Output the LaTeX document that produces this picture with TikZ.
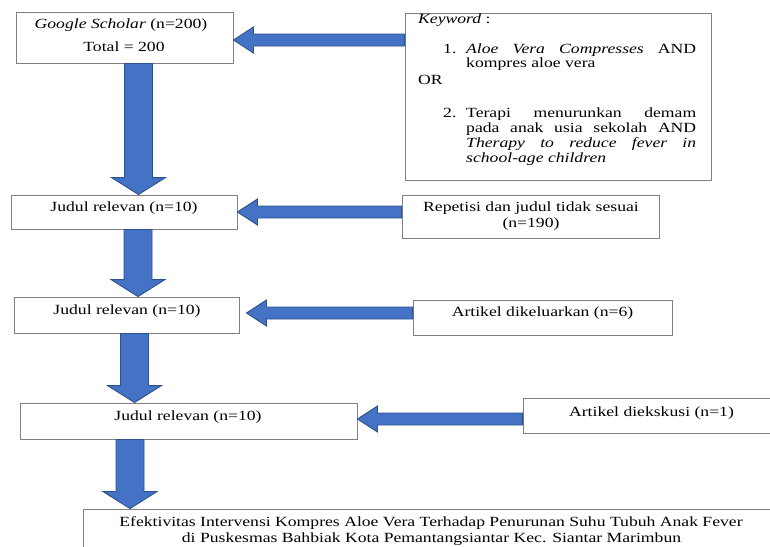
\documentclass[tikz,border=0pt]{standalone}
\usepackage{fontspec}
\setmainfont{Liberation Serif}[FakeStretch=1.26]
\usetikzlibrary{calc}
\definecolor{arrowfill}{HTML}{4472C4}
\definecolor{arrowline}{HTML}{2F528F}
\definecolor{boxline}{HTML}{808080}
\def\hsw{6pt}\def\hhw{13pt}\def\hhl{20pt}
\def\vsw{14pt}\def\vhw{27pt}\def\vhl{17pt}
\tikzset{
  box/.style={draw=boxline, line width=0.9pt, fill=white, rectangle, inner sep=0pt},
  txt/.style={inner sep=0pt, font=\fontsize{14}{16}\selectfont, text=black},
  larrow/.style={fill=arrowfill, draw=arrowline, line width=0.9pt, line join=miter, to path={
    let \p1=(\tikztostart), \p2=(\tikztotarget) in
    (\x1,\y2+\hsw) -- (\x2+\hhl,\y2+\hsw) -- (\x2+\hhl,\y2+\hhw) -- (\x2,\y2)
    -- (\x2+\hhl,\y2-\hhw) -- (\x2+\hhl,\y2-\hsw) -- (\x1,\y2-\hsw) -- cycle}},
  darrow/.style={fill=arrowfill, draw=arrowline, line width=0.9pt, line join=miter, to path={
    let \p1=(\tikztostart), \p2=(\tikztotarget) in
    (\x1-\vsw,\y1) -- (\x1-\vsw,\y2+\vhl) -- (\x1-\vhw,\y2+\vhl) -- (\x1,\y2)
    -- (\x1+\vhw,\y2+\vhl) -- (\x1+\vsw,\y2+\vhl) -- (\x1+\vsw,\y1) -- cycle}},
}
\begin{document}
\begin{tikzpicture}[x=1pt,y=-1pt]
\useasboundingbox (0,0) rectangle (770,546);
\fill[white] (0,0) rectangle (770,546);
\clip (0,0) rectangle (770,546);

% boxes
\node[box, minimum width=217pt, minimum height=51pt] (b1) at (124.5,37.5) {};
\node[box, minimum width=306pt, minimum height=167pt] (kw) at (558,96.5) {};
\node[box, minimum width=226pt, minimum height=34pt] (b2) at (124,212) {};
\node[box, minimum width=257pt, minimum height=43pt] (rep) at (530.5,216.5) {};
\node[box, minimum width=225pt, minimum height=36pt] (b3) at (126.5,315) {};
\node[box, minimum width=259pt, minimum height=35pt] (art6) at (542.5,317.5) {};
\node[box, minimum width=337pt, minimum height=36pt] (b4) at (188.5,421) {};
\node[box, minimum width=260pt, minimum height=35pt] (art1) at (653,415.5) {};
\node[box, minimum width=700pt, minimum height=60pt] (fin) at (433,539) {};

% texts
\node[txt, anchor=base] (t1a) at (121,28) {\textit{Google Scholar} (n=200)};
\node[txt, anchor=base] (t1b) at (124,51) {Total = 200};

\node[txt, anchor=base west] (kw0) at (418,23.5) {\textit{Keyword} :};
\node[txt, anchor=base west] (kn1) at (443,53) {1.};
\node[txt, anchor=base west] (kl1a) at (466,53) {\makebox[230pt][s]{\textit{Aloe Vera Compresses} AND}};
\node[txt, anchor=base west] (kl1b) at (466,67) {kompres aloe vera};
\node[txt, anchor=base west] (kor) at (418,84) {OR};
\node[txt, anchor=base west] (kn2) at (443,117) {2.};
\node[txt, anchor=base west] (kl2a) at (466,117) {\makebox[230pt][s]{Terapi menurunkan demam}};
\node[txt, anchor=base west] (kl2b) at (466,132) {\makebox[230pt][s]{pada anak usia sekolah AND}};
\node[txt, anchor=base west] (kl2c) at (466,147) {\makebox[230pt][s]{\itshape Therapy to reduce fever in}};
\node[txt, anchor=base west] (kl2d) at (466,162) {\textit{school-age children}};

\node[txt, anchor=base] (t2) at (124,211) {Judul relevan (n=10)};
\node[txt, anchor=base] (trep1) at (531,211) {Repetisi dan judul tidak sesuai};
\node[txt, anchor=base] (trep2) at (531,227) {(n=190)};
\node[txt, anchor=base] (t3) at (127,314) {Judul relevan (n=10)};
\node[txt, anchor=base] (tart6) at (542.5,316) {Artikel dikeluarkan (n=6)};
\node[txt, anchor=base] (t4) at (188,420) {Judul relevan (n=10)};
\node[txt, anchor=base] (tart1) at (651.5,416) {Artikel diekskusi (n=1)};
\node[txt, anchor=base] (tfin1) at (431,526) {Efektivitas Intervensi Kompres Aloe Vera Terhadap Penurunan Suhu Tubuh Anak Fever};
\node[txt, anchor=base] (tfin2) at (431.5,542) {di Puskesmas Bahbiak Kota Pemantangsiantar Kec. Siantar Marimbun};

% arrows
\path[larrow] (kw.west) to ([yshift=-2.5pt]b1.east);
\path[larrow] (rep.west) to (b2.east);
\path[larrow] (art6.west) to ([xshift=7pt,yshift=2pt]b3.east);
\path[larrow] (art1.west) to ([yshift=2pt]b4.east);
\path[darrow] ([xshift=14pt]b1.south) to (b2.north);
\path[darrow] ([xshift=14pt]b2.south) to (b3.north);
\path[darrow] ([xshift=8pt]b3.south) to (b4.north);
\path[darrow] ([xshift=-58.5pt]b4.south) to (fin.north);
\end{tikzpicture}
\end{document}
